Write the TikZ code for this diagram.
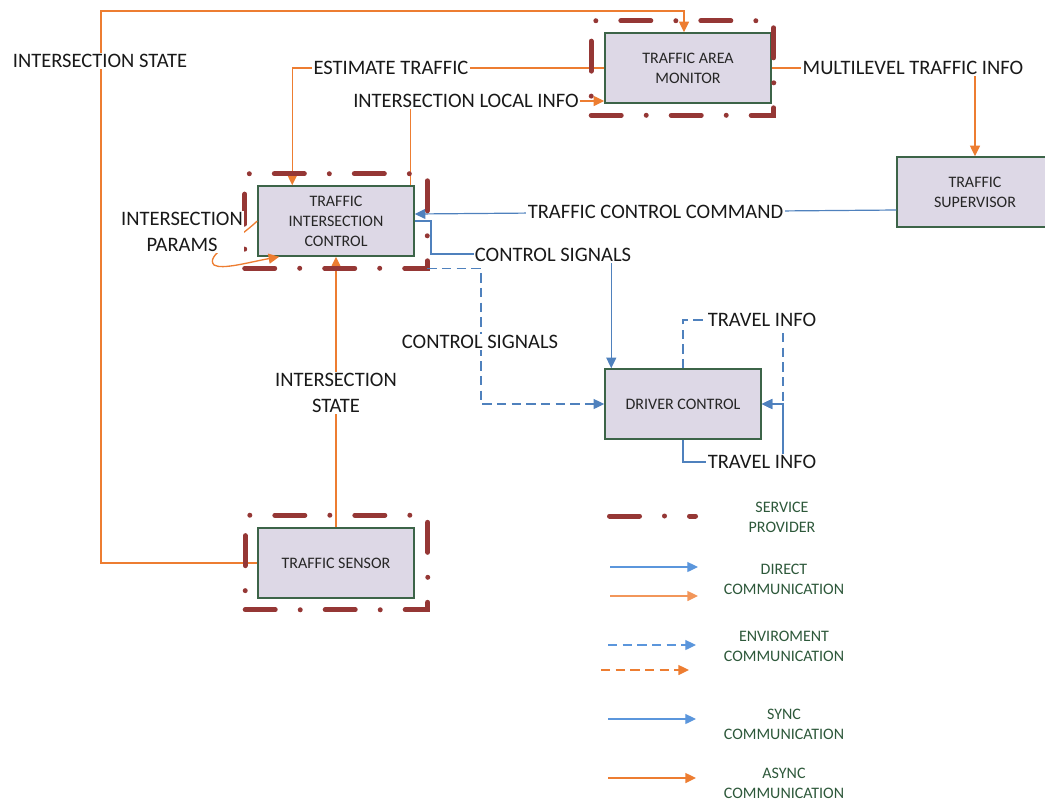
\documentclass[tikz,border=0pt]{standalone}
\usepackage{fontspec}
\setmainfont{Carlito}
\usetikzlibrary{arrows.meta,calc}
\definecolor{boxfill}{RGB}{221,216,230}
\definecolor{boxline}{RGB}{60,100,72}
\definecolor{provider}{RGB}{149,55,53}
\definecolor{async}{RGB}{237,125,49}
\definecolor{asynclight}{RGB}{242,150,90}
\definecolor{sync}{RGB}{79,129,189}
\definecolor{synclight}{RGB}{91,150,220}
\definecolor{legendtext}{RGB}{45,88,58}
\begin{document}
\begin{tikzpicture}[x=0.75pt,y=-0.75pt,
  box/.style={draw=boxline, line width=1.1pt, fill=boxfill, minimum width=117pt,
    minimum height=52.5pt, inner sep=0pt, align=center,
    font=\fontsize{12}{15}\selectfont, text=black!85},
  providerarea/.style={minimum width=136.5pt, minimum height=70.5pt, inner sep=0pt},
  providerline/.style={draw=provider, line width=3.75pt, line cap=round,
    dash pattern=on 22.5pt off 18.75pt on 0pt off 18.75pt},
  lbl/.style={fill=white, inner sep=1pt, align=center,
    font=\fontsize{15.4}{19}\selectfont, text=black!90},
  legend/.style={align=center, font=\fontsize{12}{15}\selectfont, text=legendtext},
  tip/.style={-{Triangle[length=8pt,width=7.5pt]}},
  orangeline/.style={draw=async, line width=1pt, tip},
  blueline/.style={draw=sync, line width=0.9pt, tip},
  bluedash/.style={blueline, dash pattern=on 7pt off 4pt},
  orangedash/.style={orangeline, dash pattern=on 7pt off 4pt}
]
\useasboundingbox (0,0) rectangle (1045,801);
\clip (0,0) rectangle (1045,801);

% ---------- components ----------
\node[box, minimum width=124.5pt] (tam) at (688,68) {TRAFFIC AREA\\MONITOR};
\node[box] (tic) at (336,221) {TRAFFIC\\INTERSECTION\\CONTROL};
\node[box] (ts)  at (336,563) {TRAFFIC SENSOR};
\node[box] (sup) at (975,192) {TRAFFIC\\SUPERVISOR};
\node[box] (dc)  at (683,404) {DRIVER CONTROL};

% ---------- service provider areas ----------
\node[providerarea] (tamf) at (682.5,68) {};
\node[providerarea] (ticf) at (336,221) {};
\node[providerarea] (tsf)  at (336.5,562.5) {};

% ---------- helper points ----------
\coordinate (isTop) at (101,11);
\coordinate (csBend) at (431,254);
\coordinate (cdBend) at (481,404);
\coordinate (tiTop) at (783,320);
\coordinate (tiBot) at (783,462);
\coordinate (tiJoin) at (783,404);

% ---------- connectors ----------
\draw[orangeline] (ts.west) -| (isTop) -| ($(tam.north)+(-4,0)$);
\draw[orangeline] (tam.west) -| ($(tic.north west)+(35,0)$);
\draw[orangeline] ($(tic.north east)+(-4,0)$) |- ($(tam.west)+(0,33)$);
\draw[orangeline] (tam.east) -| (sup.north);
\draw[orangeline] (ts.north) -- (tic.south);
\draw[orangeline] (tic.west) .. controls (235,242) and (205,255) .. (214,265)
  .. controls (222,270) and (250,262) .. ($(tic.south west)+(22,0)$);
\draw[blueline] ($(sup.west)+(0,18)$) -- coordinate[pos=0.5] (tccMid) ($(tic.east)+(0,-7)$);
\draw[blueline] (tic.east) -| (csBend) -| ($(dc.north west)+(7,0)$);
\draw[bluedash] (dc.north) |- (tiTop) -- (tiJoin) -- (dc.east);
\draw[blueline] (dc.south) |- (tiBot) -- (tiJoin) -- (dc.east);

% ---------- service provider outlines ----------
\foreach \f in {tamf,ticf,tsf}
  \draw[providerline] (\f.south west) -- (\f.south east) -- (\f.north east)
    -- (\f.north west) -- cycle;

\draw[bluedash] (ticf.south east) -| (cdBend) -- (dc.west);

% ---------- connector labels ----------
\node[lbl] at (100,61) {INTERSECTION STATE};
\node[lbl] at (391,68) {ESTIMATE TRAFFIC};
\node[lbl] at (466,101) {INTERSECTION LOCAL INFO};
\node[lbl] at (913,68) {MULTILEVEL TRAFFIC INFO};
\node[lbl] at (tccMid) {TRAFFIC CONTROL COMMAND};
\node[lbl] at (553,255) {CONTROL SIGNALS};
\node[lbl] at (480,342) {CONTROL SIGNALS};
\node[lbl] at (762,320) {TRAVEL INFO};
\node[lbl] at (762,462) {TRAVEL INFO};
\node[lbl] at (336,393) {INTERSECTION\\STATE};
\node[lbl] at (182,232) {INTERSECTION\\PARAMS};

% ---------- legend ----------
\coordinate (l1a) at (609.5,516); \coordinate (l1b) at (695.5,516);
\draw[providerline] (l1a) -- (l1b);
\node[legend] at (782,517) {SERVICE\\PROVIDER};

\coordinate (l2a) at (610,567); \coordinate (l2b) at (698,567);
\coordinate (l3a) at (610,596); \coordinate (l3b) at (698,596);
\draw[blueline, draw=synclight] (l2a) -- (l2b);
\draw[orangeline, draw=asynclight] (l3a) -- (l3b);
\node[legend] at (784,579) {DIRECT\\COMMUNICATION};

\coordinate (l4a) at (608,645); \coordinate (l4b) at (696,645);
\coordinate (l5a) at (601,670); \coordinate (l5b) at (689,670);
\draw[bluedash, draw=synclight] (l4a) -- (l4b);
\draw[orangedash] (l5a) -- (l5b);
\node[legend] at (784,646) {ENVIROMENT\\COMMUNICATION};

\coordinate (l6a) at (608,719); \coordinate (l6b) at (696,719);
\draw[blueline, draw=synclight] (l6a) -- (l6b);
\node[legend] at (784,724) {SYNC\\COMMUNICATION};

\coordinate (l7a) at (608,778); \coordinate (l7b) at (696,778);
\draw[orangeline] (l7a) -- (l7b);
\node[legend] at (784,783) {ASYNC\\COMMUNICATION};
\end{tikzpicture}
\end{document}
